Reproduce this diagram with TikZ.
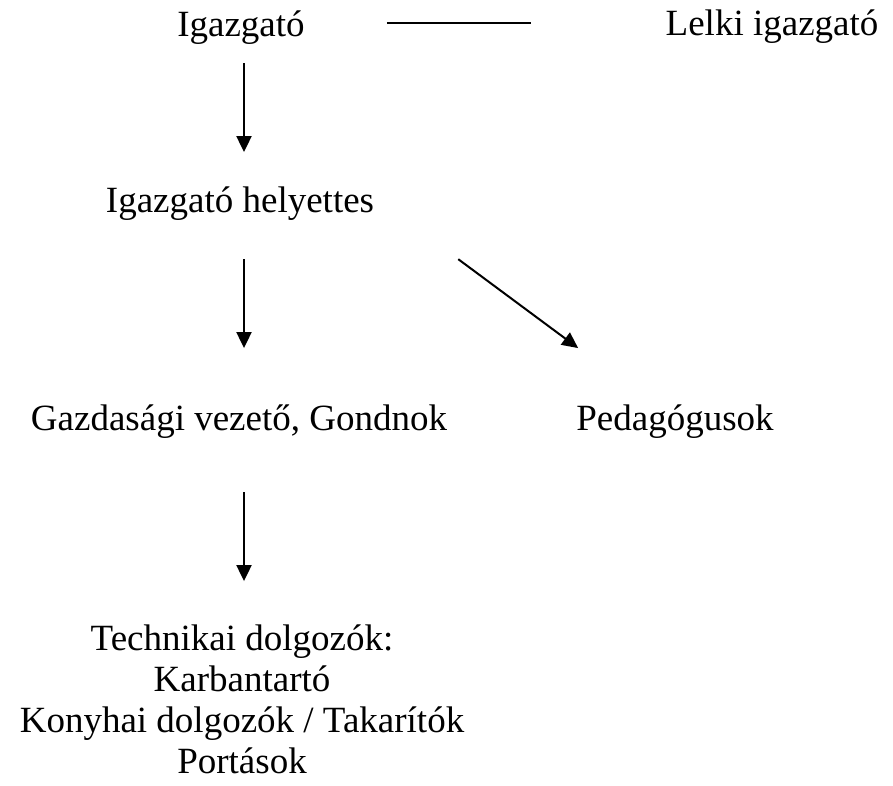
\documentclass[tikz,border=0pt]{standalone}
\usepackage{fontspec}
\setmainfont{Liberation Serif}
\usetikzlibrary{arrows.meta}
\tikzset{
  lbl/.style={inner sep=0pt, anchor=base, font=\fontsize{37}{41}\selectfont},
  conn/.style={line width=2pt, black},
  arr/.style={conn, -{Triangle[length=16pt,width=15pt]}}
}
\begin{document}
\begin{tikzpicture}[x=1pt,y=-1pt]
\useasboundingbox (0,0) rectangle (893,785);
\node[lbl] (igaz) at (241,36) {Igazgató};
\node[lbl] (lelki) at (772,35) {Lelki igazgató};
\node[lbl] (hely) at (240,212) {Igazgató helyettes};
\node[lbl] (gazd) at (239,430) {Gazdasági vezető, Gondnok};
\node[lbl] (ped) at (675,430) {Pedagógusok};
\node[lbl, align=center] (tech) at (242,773) {Technikai dolgozók:\\Karbantartó\\Konyhai dolgozók / Takarítók\\Portások};
\draw[conn] ([shift={(82,-4)}]igaz.east) coordinate (ls) -- ([xshift=-134pt]lelki.west |- ls);
\draw[arr] ([shift={(3,19)}]igaz.south) -- ([shift={(4,-34)}]hely.north);
\draw[arr] ([shift={(4,39)}]hely.south) -- ([shift={(5,-56)}]gazd.north);
\draw[arr] ([shift={(84,39)}]hely.south east) -- ([shift={(2,-56)}]ped.north west);
\draw[arr] ([shift={(5,54)}]gazd.south) -- ([shift={(2,-43)}]tech.north);
\end{tikzpicture}
\end{document}
